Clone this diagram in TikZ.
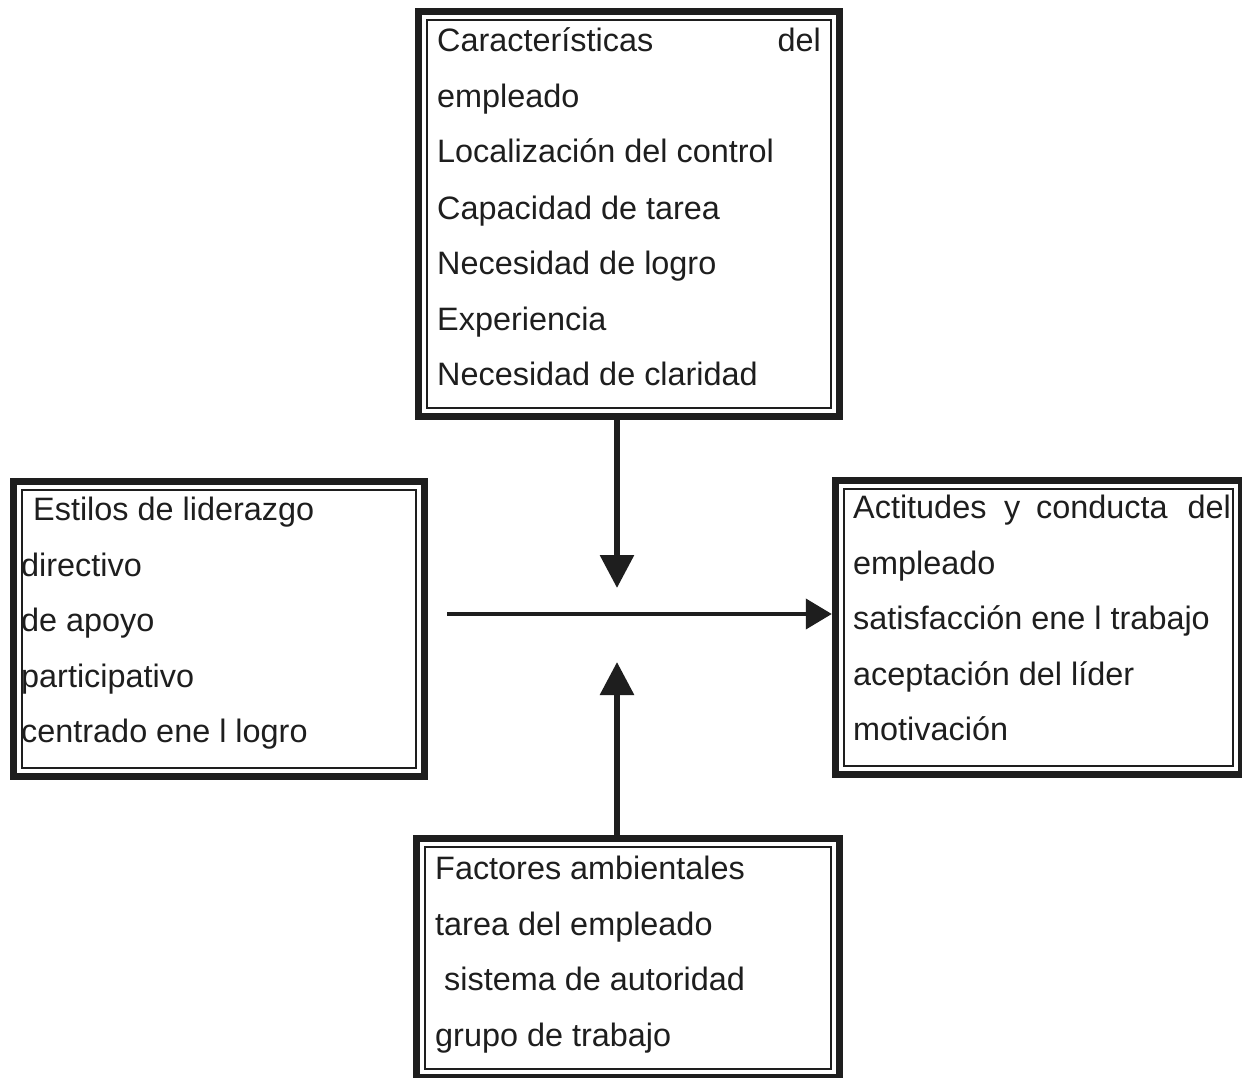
\documentclass[tikz,border=0pt]{standalone}
\usepackage{fontspec}
\setmainfont{Liberation Sans}
\usetikzlibrary{arrows.meta,fit}
\definecolor{ink}{HTML}{1E1E1E}
\tikzset{
  txt/.style={font=\fontsize{32.4}{38}\selectfont, inner sep=0pt, text=ink},
  conn/.style={draw=ink, line width=6pt, -{Triangle[length=33pt,width=33pt]}},
  hconn/.style={draw=ink, line width=4pt, -{Triangle[length=26pt,width=30pt]}},
}
\newcommand\dblbox[5]{%
  \node[inner sep=0pt, fit={(#2,#3)(#4,#5)}] (#1) {};
  \draw[ink, line width=7pt] ([xshift=3.5pt,yshift=-3.5pt]#1.north west) rectangle ([xshift=-3.5pt,yshift=3.5pt]#1.south east);
  \draw[ink, line width=1.5pt] ([xshift=12pt,yshift=-12pt]#1.north west) rectangle ([xshift=-12pt,yshift=12pt]#1.south east);
}
\begin{document}
\begin{tikzpicture}[x=1pt,y=-1pt]
\useasboundingbox[fill=white] (0,0) rectangle (1242,1078);
\begin{scope}
\clip (0,0) rectangle (1242,1078);
% boxes
\dblbox{top}{415}{8}{843}{420}
\dblbox{left}{10}{478}{428}{780}
\dblbox{right}{832}{477}{1245}{778}
\dblbox{bot}{413}{835}{843}{1081}
\end{scope}
% top box text
\node[txt, anchor=base west] (t1) at (437,52) {Características};
\node[txt, anchor=base east] (t1b) at (821,52) {del};
\node[txt, anchor=base west] (t2) at (437,108) {empleado};
\node[txt, anchor=base west] (t3) at (437,163) {Localización del control};
\node[txt, anchor=base west] (t4) at (437,219) {Capacidad de tarea};
\node[txt, anchor=base west] (t5) at (437,274) {Necesidad de logro};
\node[txt, anchor=base west] (t6) at (437,330) {Experiencia};
\node[txt, anchor=base west] (t7) at (437,385) {Necesidad de claridad};
% left box text
\node[txt, anchor=base west] (l1) at (33,520) {Estilos de liderazgo};
\node[txt, anchor=base west] (l2) at (21,576) {directivo};
\node[txt, anchor=base west] (l3) at (21,631) {de apoyo};
\node[txt, anchor=base west] (l4) at (21,687) {participativo};
\node[txt, anchor=base west] (l5) at (21,742) {centrado ene l logro};
% right box text
\node[txt, anchor=base west] (r1a) at (853,518) {Actitudes};
\node[txt, anchor=base west] (r1b) at (1004,518) {y};
\node[txt, anchor=base west] (r1c) at (1036,518) {conducta};
\node[txt, anchor=base east] (r1d) at (1231,518) {del};
\node[txt, anchor=base west] (r2) at (853,574) {empleado};
\node[txt, anchor=base west] (r3) at (853,629) {satisfacción ene l trabajo};
\node[txt, anchor=base west] (r4) at (853,685) {aceptación del líder};
\node[txt, anchor=base west] (r5) at (853,740) {motivación};
% bottom box text
\node[txt, anchor=base west] (b1) at (435,879) {Factores ambientales};
\node[txt, anchor=base west] (b2) at (435,935) {tarea del empleado};
\node[txt, anchor=base west] (b3) at (444,990) {sistema de autoridad};
\node[txt, anchor=base west] (b4) at (435,1046) {grupo de trabajo};
% connectors
\coordinate (cdown) at (617,588);
\coordinate (cup) at (617,662);
\coordinate (hs) at (447,614);
\draw[conn] (top.south -| cdown) -- (cdown);
\draw[conn] (bot.north -| cup) -- (cup);
\draw[hconn] (hs) -- (hs -| right.west);
\end{tikzpicture}
\end{document}
